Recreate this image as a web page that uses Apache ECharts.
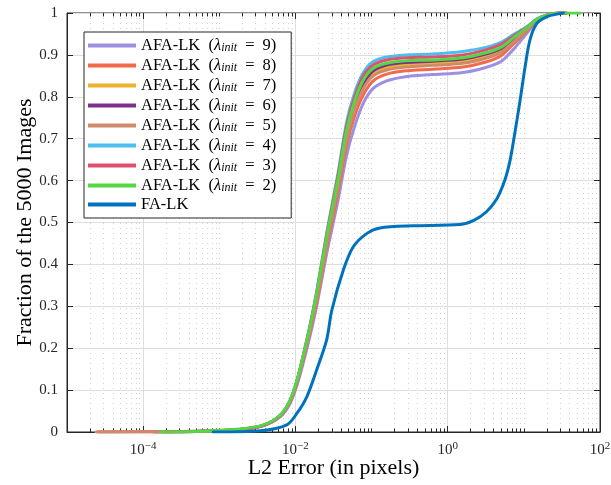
<!DOCTYPE html>
<html>
<head>
<meta charset="utf-8">
<script src="https://cdn.jsdelivr.net/npm/echarts@6/dist/echarts.min.js"></script>
<style>
  html, body { margin: 0; padding: 0; background: #fff; }
  #chart { width: 611px; height: 485px; }
</style>
</head>
<body>
<div id="chart"></div>
<script>
// shared x grid (pixels of L2 error) for the AFA-LK curves
const afaX = [6.3e-4, 1.86e-3, 3.8e-3, 6.3e-3, 8.5e-3, 0.0105, 0.0126, 0.0155, 0.019, 0.026, 0.036,
              0.047, 0.060, 0.078, 0.105, 0.158, 0.28, 0.63, 1.58, 3.16, 5.0, 7.2, 11, 14.8, 20, 29.5]

const afaNames = ['AFA-LK (λ=9)', 'AFA-LK (λ=8)', 'AFA-LK (λ=7)', 'AFA-LK (λ=6)',
                  'AFA-LK (λ=5)', 'AFA-LK (λ=4)', 'AFA-LK (λ=3)', 'AFA-LK (λ=2)']
const afaLambda = [9, 8, 7, 6, 5, 4, 3, 2]
// first x where each curve leaves 0, and last x drawn (at 1)
const afaStart = [2.7e-5, 2.5e-5, 1.3e-4, 1.4e-4, 2.4e-5, 3.2e-4, 2.0e-4, 1.66e-4]
const afaEnd = [35, 35, 36, 36, 35, 36, 38, 55]

const lam9 = [0.002, 0.006, 0.015, 0.036, 0.068, 0.112, 0.163, 0.228, 0.30, 0.43, 0.55, 0.66, 0.73, 0.785, 0.82, 0.838, 0.848, 0.853, 0.858, 0.87, 0.884, 0.912, 0.952, 0.98, 0.994, 1.0]
const lam8 = [0.002, 0.006, 0.016, 0.038, 0.072, 0.118, 0.171, 0.238, 0.31, 0.445, 0.57, 0.685, 0.755, 0.805, 0.838, 0.854, 0.862, 0.866, 0.871, 0.883, 0.898, 0.925, 0.958, 0.982, 0.995, 1.0]
const lam7 = [0.002, 0.006, 0.016, 0.039, 0.074, 0.121, 0.176, 0.246, 0.323, 0.46, 0.59, 0.705, 0.776, 0.826, 0.856, 0.870, 0.877, 0.880, 0.885, 0.897, 0.91, 0.933, 0.962, 0.984, 0.995, 1.0]
const lam6 = [0.002, 0.006, 0.016, 0.039, 0.075, 0.122, 0.178, 0.249, 0.327, 0.465, 0.595, 0.712, 0.783, 0.832, 0.862, 0.876, 0.882, 0.885, 0.89, 0.902, 0.915, 0.937, 0.964, 0.984, 0.995, 1.0]
const lam5 = [0.002, 0.006, 0.016, 0.038, 0.073, 0.12, 0.174, 0.243, 0.318, 0.455, 0.583, 0.70, 0.77, 0.82, 0.85, 0.864, 0.871, 0.875, 0.88, 0.892, 0.906, 0.93, 0.96, 0.983, 0.995, 1.0]
const lam4 = [0.002, 0.006, 0.016, 0.039, 0.075, 0.123, 0.182, 0.254, 0.335, 0.48, 0.615, 0.74, 0.81, 0.858, 0.884, 0.895, 0.900, 0.902, 0.908, 0.918, 0.93, 0.948, 0.968, 0.986, 0.995, 1.0]
const lam3 = [0.002, 0.006, 0.016, 0.039, 0.075, 0.122, 0.18, 0.252, 0.332, 0.475, 0.608, 0.73, 0.80, 0.85, 0.876, 0.888, 0.893, 0.895, 0.900, 0.912, 0.925, 0.944, 0.966, 0.985, 0.995, 1.0]
const lam2 = [0.002, 0.007, 0.017, 0.04, 0.076, 0.124, 0.18, 0.25, 0.33, 0.47, 0.60, 0.72, 0.79, 0.84, 0.868, 0.88, 0.886, 0.888, 0.893, 0.905, 0.918, 0.94, 0.965, 0.985, 0.995, 1.0]
const afaY = [lam9, lam8, lam7, lam6, lam5, lam4, lam3, lam2]

// FA-LK
const faX = [8.3e-4, 3.5e-3, 7.7e-3, 0.0105, 0.0141, 0.019, 0.0257, 0.030, 0.0427, 0.0575, 0.087, 0.129,
             0.35, 1.45, 2.2, 3.2, 4.4, 5.6, 6.6, 7.6, 8.9, 10.35, 12.0, 14.8, 20, 29.9, 33]
const faY = [0, 0.003, 0.017, 0.045, 0.084, 0.148, 0.22, 0.29, 0.387, 0.442, 0.474, 0.487,
             0.492, 0.495, 0.505, 0.525, 0.556, 0.6, 0.649, 0.713, 0.79, 0.87, 0.935, 0.975, 0.991, 0.999, 1.0]

const xMajorTicks = [1e-4, 1e-2, 1, 100]
const colors = ['#9d8fe2', '#f2694b', '#edb12e', '#7e2f8e', '#cf8a69', '#4dbeee', '#e0506f', '#55d745', '#0072bd']

// minor ticks at k*10^e, skipping the labelled decades
const xMinorTicks = []
for (let e = -5; e <= 1; e++) {
    for (let k = 1; k <= 9; k++) {
        const v = k * Math.pow(10, e)
        if (k === 1 && e % 2 === 0) continue
        xMinorTicks.push(+v.toPrecision(3))
    }
}

const FONT = 'Liberation Serif'
const AXIS_COLOR = '#262626'

const series = afaY.map((ys, i) => {
    const data = [[afaStart[i], 0]]
    afaX.forEach((x, j) => data.push([x, ys[j]]))
    data.push([afaEnd[i], 1])
    return {
        name: afaNames[i],
        type: 'line',
        xAxisIndex: 0,
        data: data,
        showSymbol: false,
        smooth: 0.3,
        lineStyle: { width: 3, color: colors[i], join: 'round', cap: 'round' },
        itemStyle: { color: colors[i] },
        z: 3 + i
    }
})
series.push({
    name: 'FA-LK',
    type: 'line',
    xAxisIndex: 0,
    data: faX.map((x, j) => [x, faY[j]]),
    showSymbol: false,
    smooth: 0.3,
    lineStyle: { width: 3, color: colors[8], join: 'round', cap: 'round' },
    itemStyle: { color: colors[8] },
    z: 20
})

const lambdaOf = {}
afaNames.forEach((n, i) => { lambdaOf[n] = afaLambda[i] })

const logAxisBase = {
    type: 'log',
    logBase: 10,
    min: 1e-5,
    max: 100,
    gridIndex: 0,
}

const chart = echarts.init(document.getElementById('chart'), null, { renderer: 'canvas' })
chart.setOption({
    animation: false,
    backgroundColor: '#fff',
    grid: {
        left: 67,
        right: 11,
        top: 13,
        bottom: 53,
        outerBoundsMode: 'none',
        show: true,
        borderColor: AXIS_COLOR,
        borderWidth: 1,
        backgroundColor: 'transparent'
    },
    legend: {
        orient: 'vertical',
        left: 84,
        top: 32,
        data: afaNames.concat(['FA-LK']),
        icon: 'rect',
        itemWidth: 48,
        itemHeight: 4,
        itemGap: 2,
        padding: [4, 15, 5, 4],
        backgroundColor: '#fff',
        borderColor: AXIS_COLOR,
        borderWidth: 1,
        borderRadius: 0,
        formatter: function (name) {
            if (name === 'FA-LK') return 'FA-LK'
            return 'AFA-LK  ({l|λ}{sub|init}{eq|=}' + lambdaOf[name] + ')'
        },
        textStyle: {
            fontFamily: FONT,
            fontSize: 16.5,
            color: '#000',
            lineHeight: 17,
            rich: {
                l: { fontFamily: FONT, fontSize: 16.5, fontStyle: 'italic', lineHeight: 17 },
                sub: { fontFamily: FONT, fontSize: 12, fontStyle: 'italic', lineHeight: 11, verticalAlign: 'bottom', padding: [6, 0, 0, 0] },
                eq: { fontFamily: FONT, fontSize: 16.5, lineHeight: 17, padding: [0, 8, 0, 8] }
            }
        }
    },
    xAxis: [
        Object.assign({}, logAxisBase, {
            position: 'bottom',
            name: 'L2 Error (in pixels)',
            nameLocation: 'middle',
            nameGap: 25,
            nameMoveOverlap: false,
            nameTextStyle: { fontFamily: FONT, fontSize: 22, color: '#000' },
            axisLine: { show: true, lineStyle: { color: AXIS_COLOR, width: 1 } },
            axisTick: { show: true, inside: true, length: 6, customValues: xMajorTicks, lineStyle: { color: AXIS_COLOR } },
            axisLabel: {
                customValues: xMajorTicks,
                margin: 9,
                fontFamily: FONT,
                fontSize: 15,
                color: '#262626',
                formatter: function (v) {
                    const e = Math.round(Math.log10(v))
                    return '10{sup|' + String(e).replace('-', '−') + '}'
                },
                rich: {
                    sup: { fontFamily: FONT, fontSize: 11, verticalAlign: 'top', padding: [0, 0, 7, 0] }
                }
            },
            splitLine: { show: true, lineStyle: { color: '#dedede', width: 1 } },
            minorTick: { show: false },
            minorSplitLine: { show: false }
        }),
        Object.assign({}, logAxisBase, {
            position: 'bottom',
            axisLine: { show: false },
            axisTick: { show: true, inside: true, length: 3.5, customValues: xMinorTicks, lineStyle: { color: AXIS_COLOR } },
            axisLabel: { show: false, customValues: [] },
            splitLine: { show: true, lineStyle: { color: '#d2d2d2', width: 1, type: [1, 4] } }
        }),
        Object.assign({}, logAxisBase, {
            position: 'top',
            axisLine: { show: false },
            axisTick: { show: true, inside: true, length: 6, customValues: xMajorTicks, lineStyle: { color: AXIS_COLOR } },
            axisLabel: { show: false, customValues: [] },
            splitLine: { show: false }
        }),
        Object.assign({}, logAxisBase, {
            position: 'top',
            axisLine: { show: false },
            axisTick: { show: true, inside: true, length: 3.5, customValues: xMinorTicks, lineStyle: { color: AXIS_COLOR } },
            axisLabel: { show: false, customValues: [] },
            splitLine: { show: false }
        })
    ],
    yAxis: [
        {
            type: 'value',
            min: 0,
            max: 1,
            interval: 0.1,
            position: 'left',
            name: 'Fraction of the 5000 Images',
            nameLocation: 'middle',
            nameGap: 31,
            nameMoveOverlap: false,
            nameTextStyle: { fontFamily: FONT, fontSize: 22, color: '#000' },
            axisLine: { show: true, lineStyle: { color: AXIS_COLOR } },
            axisTick: { show: true, inside: true, length: 6, lineStyle: { color: AXIS_COLOR } },
            axisLabel: {
                margin: 9,
                fontFamily: FONT,
                fontSize: 15,
                color: '#262626',
                formatter: function (v) { return String(+v.toFixed(1)) }
            },
            splitLine: { show: true, lineStyle: { color: '#dedede', width: 1 } }
        },
        {
            type: 'value',
            min: 0,
            max: 1,
            interval: 0.1,
            position: 'right',
            axisLine: { show: true, lineStyle: { color: AXIS_COLOR } },
            axisTick: { show: true, inside: true, length: 6, lineStyle: { color: AXIS_COLOR } },
            axisLabel: { show: false },
            splitLine: { show: false }
        }
    ],
    series: series
})
</script>
</body>
</html>
